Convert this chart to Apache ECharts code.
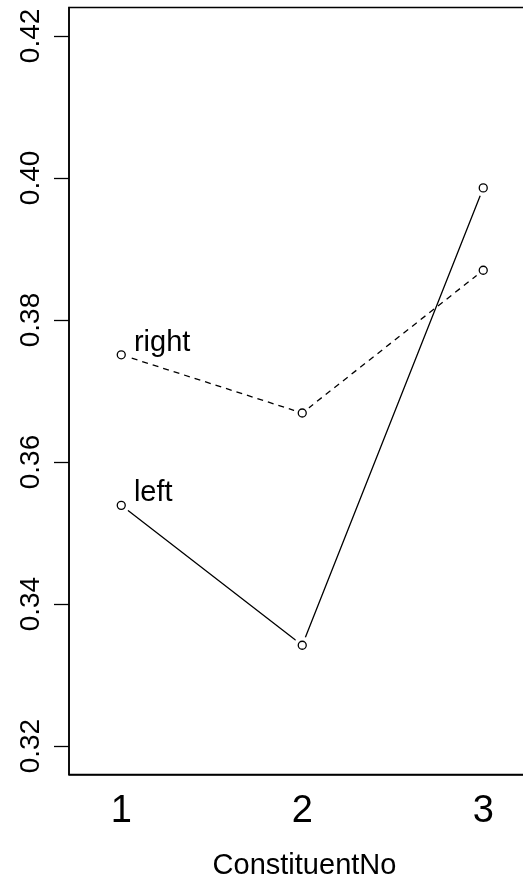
<!DOCTYPE html>
<html>
<head>
<meta charset="utf-8">
<script src="https://cdn.jsdelivr.net/npm/echarts@6/dist/echarts.min.js"></script>
<style>html,body{margin:0;padding:0;background:#fff}#c{width:523px;height:879px}</style>
</head>
<body>
<div id="c"></div>
<script>
const categories = [1, 2, 3];
const xTickLabels = ['1', '2', '3'];
const leftValues = [0.3539, 0.3342, 0.3986];
const rightValues = [0.3751, 0.3669, 0.3870];
const yTickValues = [0.32, 0.34, 0.36, 0.38, 0.40, 0.42];
const yTickLabels = ['0.32', '0.34', '0.36', '0.38', '0.40', '0.42'];
const seriesNames = ['left', 'right'];
const xTitle = 'ConstituentNo';

const FONT = 'Liberation Sans, Arial, sans-serif';
const pairs = v => categories.map((c, i) => [c, v[i]]);
const allSeries = [[leftValues, 'solid'], [rightValues, [6, 5]]];

const series = [];
allSeries.forEach(([vals, dash], k) => {
  series.push({
    name: seriesNames[k], type: 'line', data: pairs(vals), z: 1,
    showSymbol: false, symbol: 'none', silent: true,
    lineStyle: { color: '#000', width: 1.3, type: dash }
  });
});
allSeries.forEach(([vals], k) => {
  series.push({
    name: seriesNames[k] + '_mask', type: 'scatter', data: pairs(vals), z: 2,
    symbol: 'circle', symbolSize: 17, silent: true,
    itemStyle: { color: '#fff', opacity: 1 }
  });
});
allSeries.forEach(([vals], k) => {
  series.push({
    name: seriesNames[k], type: 'scatter', data: pairs(vals), z: 3,
    symbol: 'circle', symbolSize: 8, silent: true,
    itemStyle: { color: '#fff', borderColor: '#000', borderWidth: 1.3, opacity: 1 },
    label: {
      show: true, position: 'right', distance: 8, offset: [0, -12],
      fontFamily: FONT, fontSize: 29, color: '#000',
      formatter: p => p.dataIndex === 0 ? seriesNames[k] : ''
    }
  });
});

const chart = echarts.init(document.getElementById('c'), null, { renderer: 'canvas' });
chart.setOption({
  animation: false,
  backgroundColor: '#fff',
  grid: { left: 69, top: 7.5, right: -17, bottom: 104.5, outerBoundsMode: 'none', show: true, borderColor: '#000', borderWidth: 1.5, containLabel: false },
  xAxis: {
    type: 'value', min: 0.7113, max: 3.3136,
    name: xTitle, nameLocation: 'middle', nameGap: 77,
    nameTextStyle: { fontFamily: FONT, fontSize: 29, color: '#000' },
    axisLine: { show: true, lineStyle: { color: '#000', width: 1.5 } },
    axisTick: { show: false },
    splitLine: { show: false },
    axisLabel: {
      customValues: categories, margin: 18,
      fontFamily: FONT, fontSize: 38, color: '#000',
      formatter: v => xTickLabels[categories.indexOf(Math.round(v))] || ''
    }
  },
  yAxis: {
    type: 'value', min: 0.316, max: 0.424,
    axisLine: { show: true, lineStyle: { color: '#000', width: 1.5 } },
    axisTick: { show: true, customValues: yTickValues, length: 15, lineStyle: { color: '#000', width: 1.3 } },
    splitLine: { show: false },
    axisLabel: {
      customValues: yTickValues, rotate: 90, margin: 24,
      fontFamily: FONT, fontSize: 28, color: '#000',
      formatter: v => {
        const i = yTickValues.findIndex(t => Math.abs(t - v) < 1e-9);
        return i >= 0 ? yTickLabels[i] : '';
      }
    }
  },
  series: series
});
</script>
</body>
</html>
